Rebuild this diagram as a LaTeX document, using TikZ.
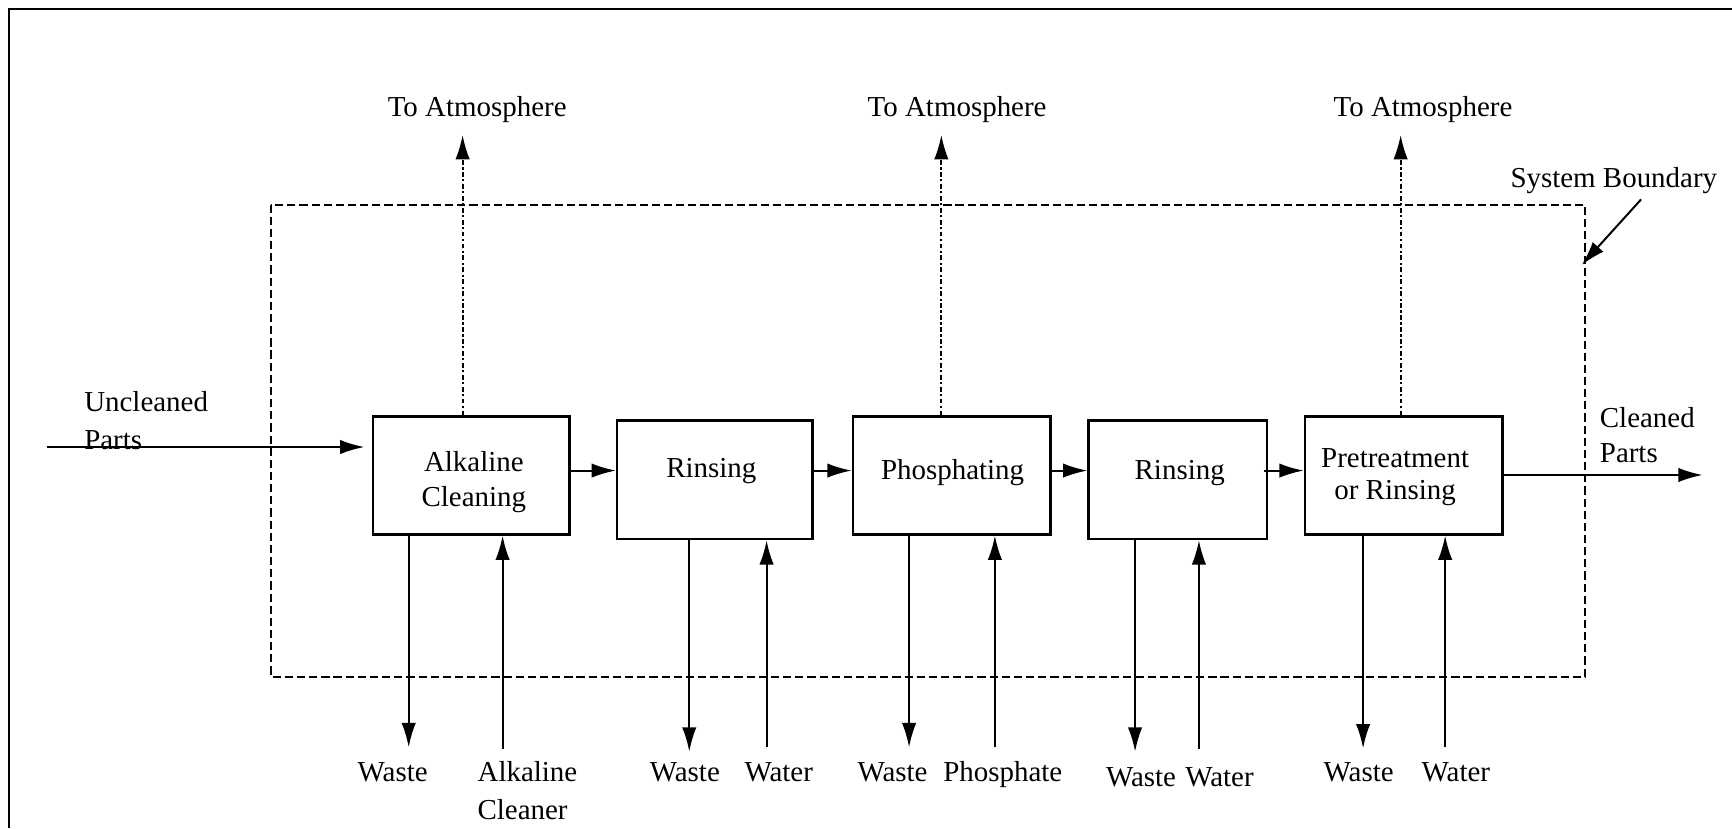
\documentclass[tikz,border=0pt]{standalone}
\usepackage{fontspec}
\setmainfont{Liberation Serif}
\usetikzlibrary{arrows.meta}
\begin{document}
\begin{tikzpicture}[x=0.5pt,y=-0.5pt,
  fs/.style={font=\fontsize{13.1}{15.8}\selectfont},
  box/.style={draw,line width=1.1pt,inner sep=0pt,minimum height=53.3pt},
  txt/.style={fs,inner sep=0pt,text height=8.65pt,text depth=0pt},
  mtxt/.style={fs,inner sep=0pt,align=center},
  arr/.style={line width=0.9pt,-{Latex[length=11pt,width=6.5pt]}},
  atm/.style={arr,dash pattern=on 2.2pt off 1.1pt on 1pt off 1.1pt},
  bnd/.style={line width=0.9pt,dash pattern=on 3.7pt off 1.8pt},
  frame/.style={line width=1.3pt}]
\useasboundingbox (0,0) rectangle (1568,750);
\draw[frame] (8.2,750) -- (8.2,8.2) -- (1568,8.2);
\draw[bnd] (245.2,185.3) rectangle (1435,612.6);

% process boxes
\node[box,minimum width=88.95pt] (a1) at (426.55,430.45) {};
\node[box,minimum width=88.5pt,minimum height=53.6pt] (r1) at (647.2,434.4) {};
\node[box,minimum width=89.55pt] (ph) at (861.65,430.45) {};
\node[box,minimum width=80.75pt,minimum height=53.6pt] (r2) at (1066.25,434.4) {};
\node[box,minimum width=89.45pt] (pr) at (1270.75,430.45) {};

\node[mtxt] (a1t) at (429,436.6) {Alkaline\\Cleaning};
\node[txt] (r1t) at (644,424) {Rinsing};
\node[txt] (pht) at (862.4,425.5) {Phosphating};
\node[txt] (r2t) at (1068,425.5) {Rinsing};
\node[mtxt] (prt) at (1263,432) {Pretreatment\\[-1.45pt]or Rinsing};

% main flow
\coordinate (in0) at (42.3,404.7);
\draw[arr,shorten >=3.3pt] (in0) -- (a1.west |- in0);
\node[mtxt,anchor=west,align=left] (unc) at (75.9,380.7) {Uncleaned\\[1.55pt]Parts};
\coordinate (fy) at (0,426);
\draw[arr] (a1.east |- fy) -- (r1.west |- fy);
\draw[arr] (r1.east |- fy) -- (ph.west |- fy);
\draw[arr] (ph.east |- fy) -- (r2.west |- fy);
\draw[arr] ([xshift=-2pt]r2.east |- fy) -- (pr.west |- fy);
\coordinate (out) at (1541.4,430);
\draw[arr] (pr.east |- out) -- (out);
\node[mtxt,anchor=west,align=left] (cln) at (1448,394.3) {Cleaned\\Parts};

% to atmosphere
\coordinate (t1) at (418.8,122.2);
\coordinate (t2) at (852.2,122.2);
\coordinate (t3) at (1268,122.2);
\draw[atm] (a1.north -| t1) -- (t1);
\draw[atm] (ph.north -| t2) -- (t2);
\draw[atm] (pr.north -| t3) -- (t3);
\node[txt] (at1) at (432,96.6) {To Atmosphere};
\node[txt] (at2) at (866.5,96.6) {To Atmosphere};
\node[txt] (at3) at (1288.3,96.6) {To Atmosphere};

% system boundary
\node[txt] (sb) at (1461,161) {System Boundary};
\coordinate (sbs) at (1485.7,180.5);
\coordinate (sbe) at (1431.9,239.9);
\draw[arr] (sbs) -- (sbe);

% bottom streams
\coordinate (w1) at (370,676.5);   \coordinate (c1) at (455,678);
\coordinate (w2) at (624,680.5);   \coordinate (c2) at (694,676.5);
\coordinate (w3) at (823,676.5);   \coordinate (c3) at (900.7,676.5);
\coordinate (w4) at (1027.6,680.5);\coordinate (c4) at (1085.4,678.3);
\coordinate (w5) at (1234,677.5);  \coordinate (c5) at (1308.3,676.5);
\draw[arr] (a1.south -| w1) -- (w1);
\draw[arr] (c1) -- (a1.south -| c1);
\draw[arr] (r1.south -| w2) -- (w2);
\draw[arr] (c2) -- (r1.south -| c2);
\draw[arr] (ph.south -| w3) -- (w3);
\draw[arr] (c3) -- (ph.south -| c3);
\draw[arr] (r2.south -| w4) -- (w4);
\draw[arr] (c4) -- (r2.south -| c4);
\draw[arr] (pr.south -| w5) -- (w5);
\draw[arr] (c5) -- (pr.south -| c5);

\node[txt] (lw1) at (355.5,698.6) {Waste};
\node[mtxt,anchor=west,align=left] (lc1) at (432,716) {Alkaline\\[1.45pt]Cleaner};
\node[txt] (lw2) at (620,698.6) {Waste};
\node[txt] (lc2) at (705,698.6) {Water};
\node[txt] (lw3) at (808,698.6) {Waste};
\node[txt] (lc3) at (907.8,698.6) {Phosphate};
\node[txt] (lw4) at (1033,703) {Waste};
\node[txt] (lc4) at (1104,703) {Water};
\node[txt] (lw5) at (1230,698.6) {Waste};
\node[txt] (lc5) at (1318,698.6) {Water};
\end{tikzpicture}
\end{document}
